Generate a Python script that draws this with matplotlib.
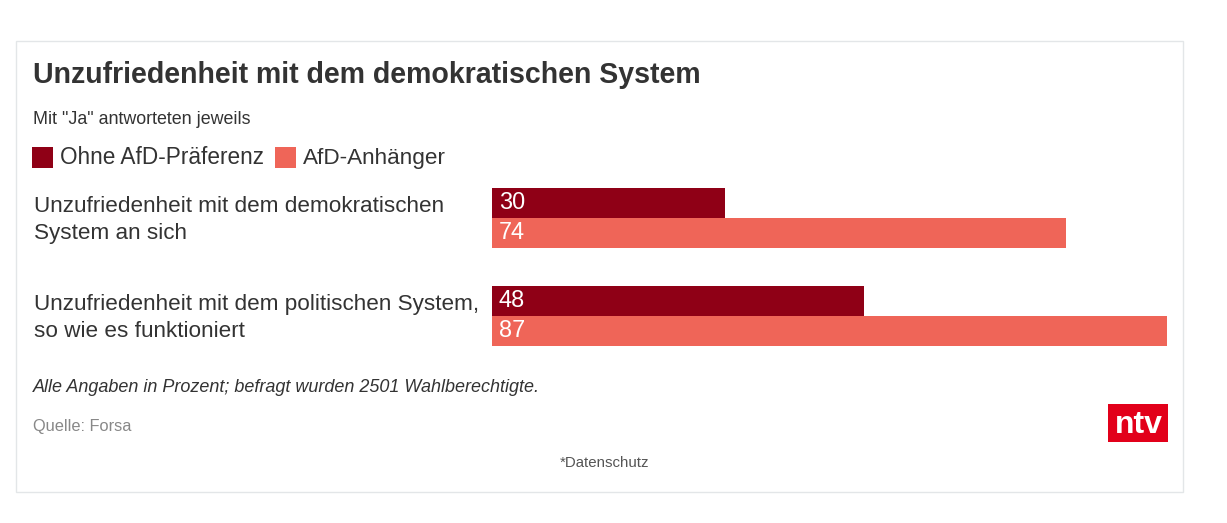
import matplotlib
matplotlib.use('Agg')
import matplotlib.pyplot as plt
from matplotlib.patches import Rectangle

plt.rcParams['font.family'] = ['Liberation Sans', 'DejaVu Sans']

categories = ['Unzufriedenheit mit dem demokratischen\nSystem an sich',
              'Unzufriedenheit mit dem politischen System,\nso wie es funktioniert']
series_names = ['Ohne AfD-Präferenz', 'AfD-Anhänger']
ohne_afd = [30, 48]
afd = [74, 87]

DARK = '#8f0016'
LIGHT = '#ef6558'
TEXT = '#333333'
W, H = 1227, 523

fig = plt.figure(figsize=(W/100, H/100), dpi=100, facecolor='white')

# page layer in pixel coords, y going down
page = fig.add_axes([0, 0, 1, 1])
page.set_xlim(0, W)
page.set_ylim(H, 0)
page.axis('off')

def px(size):
    return size*0.72

page.add_patch(Rectangle((15.5, 40.5), 1167, 451, fc='white', ec='#e3e6e8', lw=1))
page.text(33, 83, 'Unzufriedenheit mit dem demokratischen System', fontsize=px(28.5),
          fontweight='bold', color=TEXT, va='baseline')
page.text(33, 124, 'Mit "Ja" antworteten jeweils', fontsize=px(17.9), color=TEXT, va='baseline')

# legend
page.add_patch(Rectangle((32, 147), 21, 21, fc=DARK, ec='none'))
page.text(60, 164, series_names[0], fontsize=px(22.6), color=TEXT, va='baseline')
page.add_patch(Rectangle((275, 147), 21, 21, fc=LIGHT, ec='none'))
page.text(303, 164, series_names[1], fontsize=px(22.5), color=TEXT, va='baseline')

# category labels
for cat, y in zip(categories, [212, 310]):
    for j, line in enumerate(cat.split('\n')):
        page.text(34.5, y+27*j, line, fontsize=px(22.45), color=TEXT, va='baseline')

page.text(33, 392, 'Alle Angaben in Prozent; befragt wurden 2501 Wahlberechtigte.',
          fontsize=px(18), fontstyle='italic', color=TEXT, va='baseline')
page.text(33, 431, 'Quelle: Forsa', fontsize=px(16.4), color='#888888', va='baseline')
page.text(604.5, 467, '*Datenschutz', fontsize=px(15), color='#555555', va='baseline', ha='center')

# ntv logo
page.add_patch(Rectangle((1108, 404), 60, 38, fc='#e2001a', ec='none'))
page.text(1139, 433, 'ntv', fontsize=px(32), fontweight='bold', color='white',
          va='baseline', ha='center')

# bars
ax = fig.add_axes([492/W, 1-346/H, 675/W, 158/H])
ax.set_xlim(0, 87)
ax.set_ylim(158, 0)
ax.axis('off')
ax.patch.set_alpha(0)
group_pos = [0, 98]
bar_h = 30
for i, y in enumerate(group_pos):
    ax.barh(y+bar_h/2, ohne_afd[i], height=bar_h, color=DARK)
    ax.barh(y+bar_h*1.5, afd[i], height=bar_h, color=LIGHT)
    ax.text(0.85, y+21, str(ohne_afd[i]), color='white', fontsize=px(23.5), va='baseline')
    ax.text(0.85, y+51, str(afd[i]), color='white', fontsize=px(23.5), va='baseline')

fig.savefig('out.png', dpi=100)
